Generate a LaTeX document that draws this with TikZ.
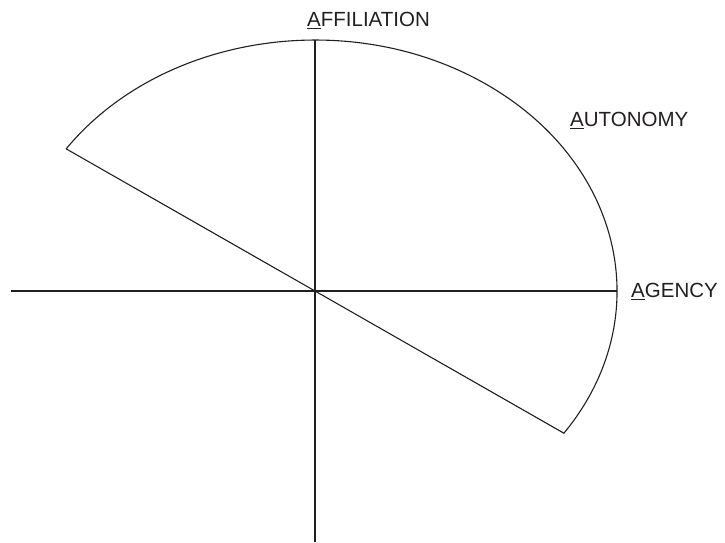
\documentclass[tikz,border=0pt]{standalone}
\usepackage{fontspec}
\setmainfont{Liberation Sans}
\definecolor{ink}{HTML}{231F20}
\begin{document}
\begin{tikzpicture}[x=1pt,y=1pt,
  axisline/.style={draw=ink,line width=2pt},
  sectorline/.style={draw=ink,line width=1.1pt,line join=miter},
  lbl/.style={anchor=base west,inner sep=0pt,text=ink,font=\fontsize{20.5}{24}\selectfont}]
\useasboundingbox (-315,-251) rectangle (410,291);
\coordinate (O) at (0,0);
\coordinate (L) at (-304,0);
\coordinate (R) at (302,0);
\coordinate (T) at (0,251);
\coordinate (Bt) at (0,-251);
\coordinate (A) at (-248.9,142.2);
\coordinate (B) at (248.9,-142.2);
\draw[axisline] (L) -- (R);
\draw[axisline] (Bt) -- (T);
\draw[sectorline] (A) -- (O) -- (B) arc[start angle=-34.5,end angle=145.5,x radius=302,y radius=251];
\node[lbl] (aff) at (-8,264.5) {\underline{A}FFILIATION};
\node[lbl] (aut) at (255,164.5) {\underline{A}UTONOMY};
\node[lbl] (age) at (316,-6.3) {\underline{A}GENCY};
\end{tikzpicture}
\end{document}
